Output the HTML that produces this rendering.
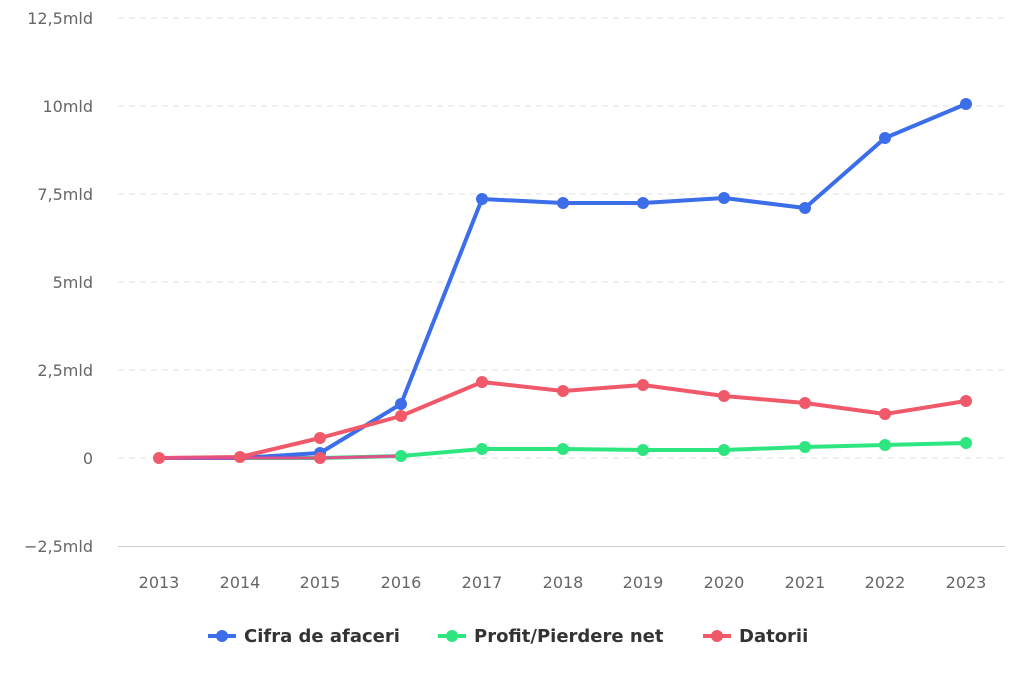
<!DOCTYPE html><html><head><style>body{margin:0;background:#fff}</style></head><body>
<svg width="1024" height="683" xmlns="http://www.w3.org/2000/svg" font-family="DejaVu Sans, sans-serif">
<g stroke="#e0e0e0" stroke-dasharray="6,5" stroke-width="1">
<line x1="118" x2="1005" y1="18" y2="18"/><line x1="118" x2="1005" y1="106" y2="106"/><line x1="118" x2="1005" y1="194" y2="194"/><line x1="118" x2="1005" y1="282" y2="282"/><line x1="118" x2="1005" y1="370" y2="370"/><line x1="118" x2="1005" y1="458" y2="458"/></g>
<line x1="118" x2="1005" y1="546.5" y2="546.5" stroke="#ccc"/>
<g fill="#666" font-size="16" text-anchor="end">
<text x="93" y="24">12,5mld</text><text x="93" y="112">10mld</text><text x="93" y="200">7,5mld</text><text x="93" y="288">5mld</text><text x="93" y="376">2,5mld</text><text x="93" y="464">0</text><text x="93" y="552">−2,5mld</text></g>
<g fill="#666" font-size="16" text-anchor="middle">
<text x="159" y="588">2013</text><text x="240" y="588">2014</text><text x="320" y="588">2015</text><text x="401" y="588">2016</text><text x="482" y="588">2017</text><text x="563" y="588">2018</text><text x="643" y="588">2019</text><text x="724" y="588">2020</text><text x="805" y="588">2021</text><text x="885" y="588">2022</text><text x="966" y="588">2023</text></g>
<g fill="none" stroke-width="4" stroke-linejoin="round">
<polyline stroke="#2ee67f" points="159,458 240,458 320,458 401,456 482,449 563,449 643,450 724,450 805,447 885,445 966,443"/>
<polyline stroke="#3b6ee8" points="159,458 240,458 320,453 401,404 482,199 563,203 643,203 724,198 805,208 885,138 966,104"/>
<polyline stroke="#f0596a" points="159,458 240,457 320,438 401,416 482,382 563,391 643,385 724,396 805,403 885,414 966,401"/>
<polyline stroke="#e0508a" stroke-width="3" points="159,458 240,458 320,458 401,456"/>
</g>
<g fill="#2ee67f"><circle cx="401" cy="456" r="6"/><circle cx="482" cy="449" r="6"/><circle cx="563" cy="449" r="6"/><circle cx="643" cy="450" r="6"/><circle cx="724" cy="450" r="6"/><circle cx="805" cy="447" r="6"/><circle cx="885" cy="445" r="6"/><circle cx="966" cy="443" r="6"/></g>
<g fill="#3b6ee8"><circle cx="320" cy="453" r="6"/><circle cx="401" cy="404" r="6"/><circle cx="482" cy="199" r="6"/><circle cx="563" cy="203" r="6"/><circle cx="643" cy="203" r="6"/><circle cx="724" cy="198" r="6"/><circle cx="805" cy="208" r="6"/><circle cx="885" cy="138" r="6"/><circle cx="966" cy="104" r="6"/></g>
<g fill="#f0596a"><circle cx="159" cy="458" r="6"/><circle cx="240" cy="457" r="6"/><circle cx="320" cy="438" r="6"/><circle cx="320" cy="458" r="6"/><circle cx="401" cy="416" r="6"/><circle cx="482" cy="382" r="6"/><circle cx="563" cy="391" r="6"/><circle cx="643" cy="385" r="6"/><circle cx="724" cy="396" r="6"/><circle cx="805" cy="403" r="6"/><circle cx="885" cy="414" r="6"/><circle cx="966" cy="401" r="6"/></g>
<g font-size="18" font-weight="bold" fill="#333">
<line x1="208" x2="236" y1="636" y2="636" stroke="#3b6ee8" stroke-width="4"/><circle cx="222" cy="636" r="6" fill="#3b6ee8"/><text x="244" y="642">Cifra de afaceri</text>
<line x1="438" x2="466" y1="636" y2="636" stroke="#2ee67f" stroke-width="4"/><circle cx="452" cy="636" r="6" fill="#2ee67f"/><text x="474" y="642">Profit/Pierdere net</text>
<line x1="703" x2="731" y1="636" y2="636" stroke="#f0596a" stroke-width="4"/><circle cx="717" cy="636" r="6" fill="#f0596a"/><text x="739" y="642">Datorii</text>
</g>
</svg></body></html>
